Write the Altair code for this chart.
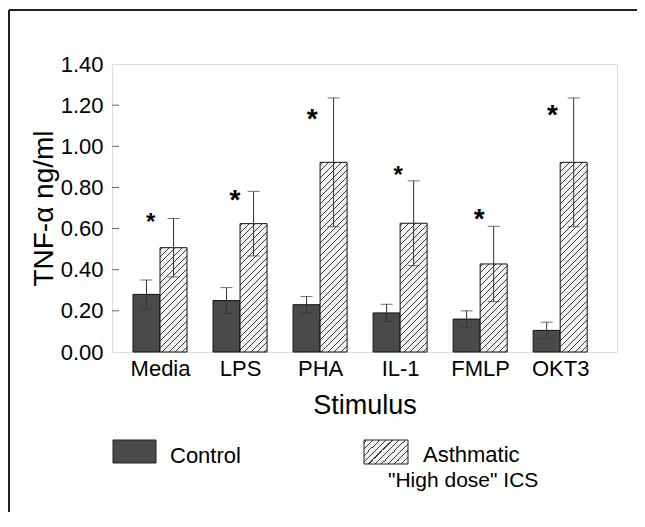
import json
import altair as alt
import pandas as pd

# ---------------- data ----------------
stimuli = ["Media", "LPS", "PHA", "IL-1", "FMLP", "OKT3"]
control_mean = [0.28, 0.25, 0.23, 0.19, 0.16, 0.105]
control_err = [0.07, 0.063, 0.04, 0.042, 0.04, 0.04]
asthma_mean = [0.507, 0.624, 0.922, 0.626, 0.428, 0.922]
asthma_err = [0.142, 0.157, 0.313, 0.206, 0.183, 0.313]
star_value = [0.661, 0.771, 1.168, 0.890, 0.679, 1.188]
star_offset = [-0.116, -0.063, -0.10, -0.025, -0.013, -0.096]
star_big = [False, True, True, False, True, True]
y_ticks = [0.0, 0.2, 0.4, 0.6, 0.8, 1.0, 1.2, 1.4]
series = ["Control", "Asthmatic", '"High dose" ICS']

# ---------------- layout / style ----------------
FONT = "Liberation Sans"
W_PLOT, H_PLOT = 505, 288
X_DOMAIN = [0.4, 6.71]
Y_MAX = 1.4
BAR_W = 0.3375
HATCH_STEP = 6.5
HATCH_LW = 1.0
HATCH_INK = "#3a3a3a"
HATCH_BG = "#f4f4f4"
DARK = "#4a4a4a"

px_per_unit_x = W_PLOT / (X_DOMAIN[1] - X_DOMAIN[0])
px_per_unit_y = H_PLOT / Y_MAX

rows = []
for i, s in enumerate(stimuli):
    p = i + 1
    rows.append(dict(stim=s, grp="Control", pos=p, x0=p - BAR_W, x1=p,
                     xc=p - BAR_W / 2, mean=control_mean[i],
                     lo=control_mean[i] - control_err[i],
                     hi=control_mean[i] + control_err[i]))
    rows.append(dict(stim=s, grp="Asthmatic", pos=p, x0=p, x1=p + BAR_W,
                     xc=p + BAR_W / 2, mean=asthma_mean[i],
                     lo=asthma_mean[i] - asthma_err[i],
                     hi=asthma_mean[i] + asthma_err[i]))
df = pd.DataFrame(rows)

stars = pd.DataFrame({
    "x": [i + 1 + o for i, o in enumerate(star_offset)],
    "y": star_value,
    "big": star_big,
})
ticks_df = pd.DataFrame({"v": y_ticks[1:-1]})

x_scale = alt.Scale(domain=X_DOMAIN, nice=False, zero=False)
y_scale = alt.Scale(domain=[0, Y_MAX], nice=False)


def hatch_gradient(w, h):
    """Diagonal '///' stripes expressed as a linear gradient in bbox units."""
    k = (w + h) / (w * w + h * h)
    total = w + h
    stops = [alt.GradientStop(color=HATCH_BG, offset=0)]
    pos = 2.0
    while pos + HATCH_LW < total:
        a = pos / total
        b = (pos + HATCH_LW) / total
        stops += [
            alt.GradientStop(color=HATCH_BG, offset=a),
            alt.GradientStop(color=HATCH_INK, offset=a),
            alt.GradientStop(color=HATCH_INK, offset=b),
            alt.GradientStop(color=HATCH_BG, offset=b),
        ]
        pos += HATCH_STEP
    stops.append(alt.GradientStop(color=HATCH_BG, offset=1))
    return alt.Gradient(gradient="linear", stops=stops,
                        x1=0, y1=0, x2=k * w, y2=k * h)


label_expr = "%s[datum.value - 1]" % json.dumps(stimuli)

base = alt.Chart(df)

control_bars = base.transform_filter(alt.datum.grp == "Control").mark_rect(
    fill=DARK, stroke="#111", strokeWidth=1
).encode(
    x=alt.X("x0:Q", scale=x_scale,
            axis=alt.Axis(values=list(range(1, len(stimuli) + 1)),
                          labelExpr=label_expr, ticks=False, domain=False,
                          grid=False, labelFont=FONT, labelFontSize=22,
                          labelColor="black", labelPadding=6,
                          title="Stimulus", titleFont=FONT, titleFontSize=27,
                          titleFontWeight="normal", titleColor="black",
                          titlePadding=13)),
    x2="x1:Q",
    y=alt.Y("mean:Q", scale=y_scale,
            axis=alt.Axis(values=y_ticks, format=".2f", ticks=False,
                          domain=False, grid=False, labelFont=FONT,
                          labelFontSize=22, labelColor="black",
                          labelPadding=9, title="TNF-α ng/ml",
                          titleFont=FONT, titleFontSize=28,
                          titleFontWeight="normal", titleColor="black",
                          titlePadding=2)),
    y2=alt.datum(0),
)

hatch_layers = []
bar_w_px = BAR_W * px_per_unit_x
for s, m in zip(stimuli, asthma_mean):
    h_px = m * px_per_unit_y
    hatch_layers.append(
        base.transform_filter((alt.datum.grp == "Asthmatic") & (alt.datum.stim == s))
        .mark_rect(fill=hatch_gradient(bar_w_px, h_px), stroke="#111", strokeWidth=1)
        .encode(x=alt.X("x0:Q", scale=x_scale), x2="x1:Q",
                y=alt.Y("mean:Q", scale=y_scale), y2=alt.datum(0))
    )

err_rule = base.mark_rule(color="#333", strokeWidth=1).encode(
    x=alt.X("xc:Q", scale=x_scale), y=alt.Y("lo:Q", scale=y_scale), y2="hi:Q")
cap_hi = base.mark_tick(orient="horizontal", size=12, thickness=1, color="#333").encode(
    x=alt.X("xc:Q", scale=x_scale), y=alt.Y("hi:Q", scale=y_scale))
cap_lo = base.mark_tick(orient="horizontal", size=12, thickness=1, color="#333").encode(
    x=alt.X("xc:Q", scale=x_scale), y=alt.Y("lo:Q", scale=y_scale))

star_big_layer = alt.Chart(stars).transform_filter(alt.datum.big).mark_text(
    text="*", font=FONT, fontSize=28, fontWeight="bold", color="black",
    baseline="alphabetic", dy=16).encode(
    x=alt.X("x:Q", scale=x_scale), y=alt.Y("y:Q", scale=y_scale))
star_small_layer = alt.Chart(stars).transform_filter(~alt.datum.big).mark_text(
    text="*", font=FONT, fontSize=24, fontWeight="bold", color="black",
    baseline="alphabetic", dy=14).encode(
    x=alt.X("x:Q", scale=x_scale), y=alt.Y("y:Q", scale=y_scale))

inner_ticks = alt.Chart(ticks_df).mark_rule(color="#666", strokeWidth=1).encode(
    x=alt.value(0), x2=alt.value(7), y=alt.Y("v:Q", scale=y_scale))

# legend (manual, to show the hatch)
one = alt.Chart(pd.DataFrame({"a": [0]}))
leg_ctrl = one.mark_rect(fill=DARK, stroke="#222", strokeWidth=1).encode(
    x=alt.value(1), x2=alt.value(44), y=alt.value(376), y2=alt.value(399))
leg_asth = one.mark_rect(fill=hatch_gradient(44, 24), stroke="#222", strokeWidth=1).encode(
    x=alt.value(252), x2=alt.value(296), y=alt.value(376), y2=alt.value(400))
LEG_FS = 21
leg_t1 = one.mark_text(text=series[0], font=FONT, fontSize=LEG_FS + 1, align="left",
                       baseline="alphabetic", color="black").encode(
    x=alt.value(58), y=alt.value(399))
leg_t2 = one.mark_text(text=series[1], font=FONT, fontSize=LEG_FS + 1, align="left",
                       baseline="alphabetic", color="black").encode(
    x=alt.value(311), y=alt.value(398))
leg_t3 = one.mark_text(text=series[2], font=FONT, fontSize=LEG_FS, align="left",
                       baseline="alphabetic", color="black").encode(
    x=alt.value(276), y=alt.value(423))

# outer frame of the figure (top and left edges visible)
frame_top = one.mark_rule(color="#222", strokeWidth=2).encode(
    x=alt.value(-103), x2=alt.value(540), y=alt.value(-54))
frame_left = one.mark_rule(color="#222", strokeWidth=2).encode(
    x=alt.value(-103), y=alt.value(-54), y2=alt.value(460))

chart = alt.layer(
    control_bars, *hatch_layers, err_rule, cap_hi, cap_lo,
    star_big_layer, star_small_layer, inner_ticks,
    leg_ctrl, leg_asth, leg_t1, leg_t2, leg_t3, frame_top, frame_left,
).properties(
    width=W_PLOT, height=H_PLOT,
    autosize=alt.AutoSizeParams(type="none"),
    padding={"left": 104, "top": 56, "right": 20, "bottom": 160},
).configure_view(
    stroke="#777", strokeWidth=1.5
).configure(background="white")

chart.save("out.html", embed_options={"renderer": "svg", "actions": False})
